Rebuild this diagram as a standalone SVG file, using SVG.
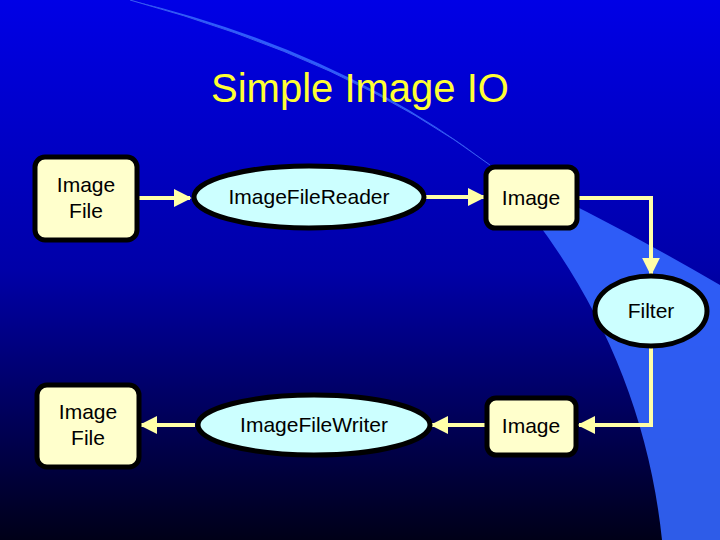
<svg xmlns="http://www.w3.org/2000/svg" width="720" height="540" viewBox="0 0 720 540">
<defs>
<linearGradient id="bg" x1="0" y1="0" x2="0" y2="1">
<stop offset="0" stop-color="#0000e6"/>
<stop offset="0.5" stop-color="#0000a8"/>
<stop offset="1" stop-color="#000018"/>
</linearGradient>
<marker id="ah" viewBox="0 0 10 10" refX="9" refY="5" markerWidth="4.5" markerHeight="4.5" orient="auto" markerUnits="strokeWidth">
<path d="M0,0 L10,5 L0,10 Z" fill="#ffffa8"/>
</marker>
<style>
.box{fill:#ffffcc;stroke:#000;stroke-width:5}
.ell{fill:#ccffff;stroke:#000;stroke-width:5}
.t{font-family:"Liberation Sans",Arial,sans-serif;font-size:21px;fill:#000;text-anchor:middle}
.c{fill:none;stroke:#ffffa8;stroke-width:4;marker-end:url(#ah)}
</style>
</defs>
<rect width="720" height="540" fill="url(#bg)"/>
<path d="M130,0 Q350,60 490,165 Q600,215 720,285 L720,540 L662,540 Q640,330 490,165 Q340,50 130,0 Z" fill="#3366ff" opacity="0.9"/>
<path d="M130,0 Q350,60 490,165" fill="none" stroke="#3a5cf0" stroke-width="1"/>
<text x="360" y="102" font-family="Liberation Sans,Arial,sans-serif" font-size="40" fill="#ffff33" text-anchor="middle">Simple Image IO</text>
<g id="connectors">
<path class="c" d="M137,198 H190"/>
<path class="c" d="M425,197 H484"/>
<path class="c" d="M577,198 H651 V274"/>
<path class="c" d="M651,347 V425 H579"/>
<path class="c" d="M487,425 H432"/>
<path class="c" d="M195,425 H141"/>
</g>
<g id="imagefile1"><rect class="box" x="35" y="157" width="102" height="83" rx="10"/><text class="t" x="86" y="192">Image</text><text class="t" x="86" y="218">File</text></g>
<g id="reader"><ellipse class="ell" cx="309" cy="197" rx="115" ry="31"/><text class="t" x="309" y="204">ImageFileReader</text></g>
<g id="image1"><rect class="box" x="486" y="167" width="91" height="61" rx="9"/><text class="t" x="531" y="205">Image</text></g>
<g id="filter"><ellipse class="ell" cx="651" cy="311" rx="56" ry="35"/><text class="t" x="651" y="318">Filter</text></g>
<g id="image2"><rect class="box" x="487" y="398" width="89" height="57" rx="9"/><text class="t" x="531" y="433">Image</text></g>
<g id="writer"><ellipse class="ell" cx="314" cy="425" rx="116" ry="30"/><text class="t" x="314" y="432">ImageFileWriter</text></g>
<g id="imagefile2"><rect class="box" x="37" y="385" width="102" height="82" rx="10"/><text class="t" x="88" y="419">Image</text><text class="t" x="88" y="445">File</text></g>
</svg>
